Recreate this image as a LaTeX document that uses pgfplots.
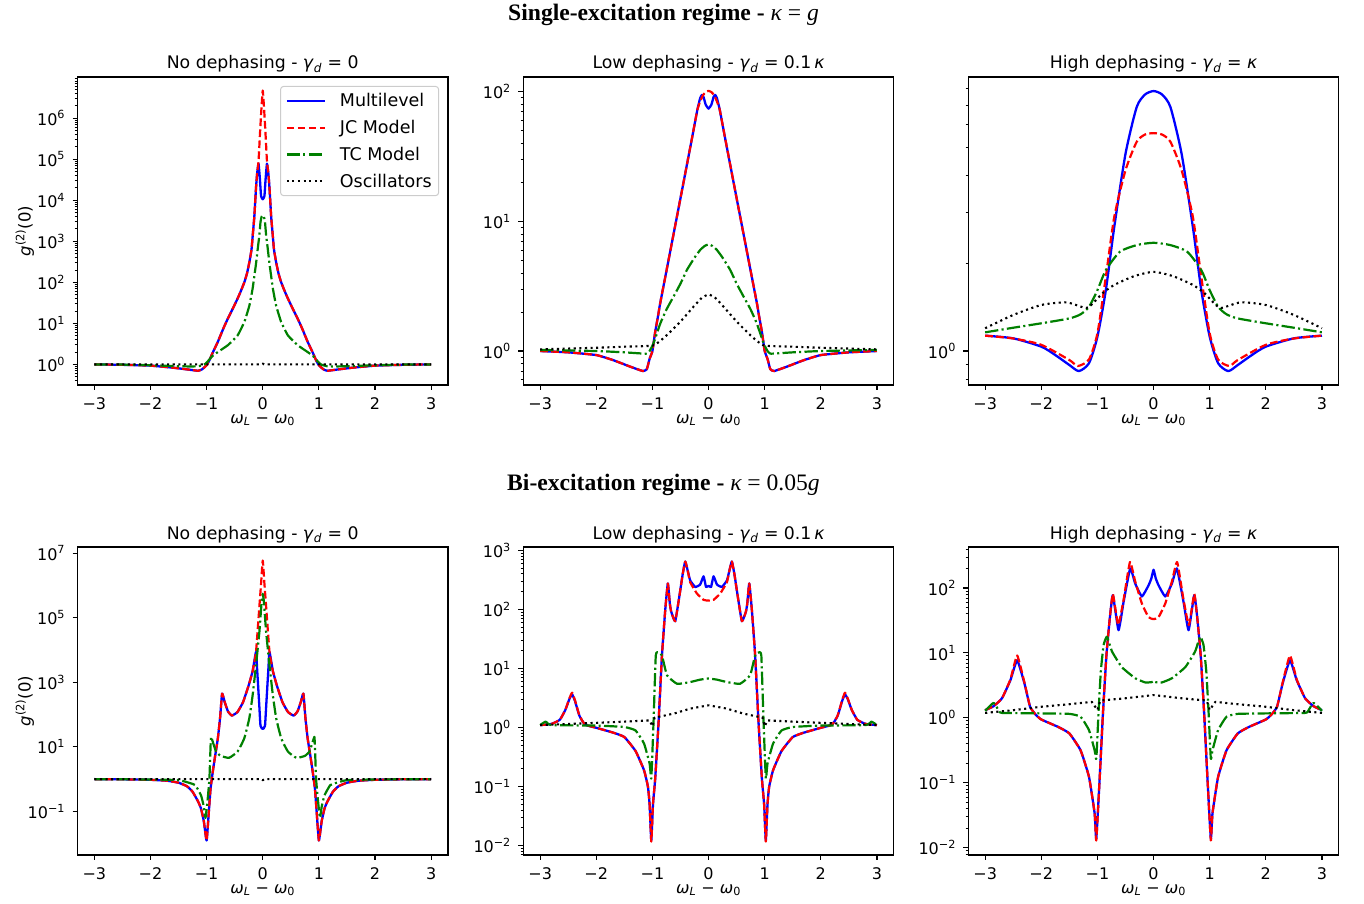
\documentclass[border=0pt]{standalone}
\usepackage{pgfplots}
\pgfplotsset{compat=1.18}
\usepackage{fontspec}
\setmainfont{DejaVu Sans}
\newfontfamily\serifbf{Liberation Serif}
\definecolor{mplgreen}{RGB}{0,128,0}
\definecolor{leggray}{RGB}{204,204,204}
\pgfplotsset{
  pan/.style={
    scale only axis, width=370.5pt, height=308pt,
    xmin=-3.3, xmax=3.3,
    xtick={-3,-2,-1,0,1,2,3},
    xticklabels={−3,−2,−1,0,1,2,3},
    xtick pos=left, ytick pos=left, tick align=outside,
    major tick length=4.9pt, minor tick length=2.8pt,
    major tick style={line width=1.1pt, black},
    minor tick style={line width=0.8pt, black},
    axis line style={line width=1.1pt, black},
    tick label style={font=\fontsize{16}{16}\selectfont},
    xticklabel style={yshift=-4pt, text depth=0pt},
    yticklabel style={xshift=-4pt},
    xlabel={\textit{ω}\textsubscript{\textit{L}} − \textit{ω}\textsubscript{0}},
    every axis x label/.style={at={(axis description cs:0.5,-0.114)}, anchor=center, inner sep=0pt, font=\fontsize{16}{16}\selectfont},
    every axis y label/.style={at={(axis description cs:-0.142,0.5)}, rotate=90, anchor=center, font=\fontsize{16.5}{16.5}\selectfont},
    title style={at={(axis description cs:0.5,1)}, anchor=base, yshift=2pt, font=\fontsize{17.3}{17.3}\selectfont},
  },
}
\tikzset{
  bS/.style={blue, solid, line width=2.3pt, line join=round, smooth, tension=0.25},
  rS/.style={red, line width=2.2pt, dash pattern=on 7.7pt off 3.3pt, line join=round, smooth, tension=0.25},
  gS/.style={mplgreen, line width=2.2pt, dash pattern=on 13.3pt off 3.3pt on 2.1pt off 3.3pt, line join=round, smooth, tension=0.25},
  kS/.style={black, line width=2.1pt, dash pattern=on 2.1pt off 3.5pt, line join=round},
}
\begin{document}
\begin{tikzpicture}
\useasboundingbox (0pt,0pt) rectangle (1364pt,903pt);
\node[anchor=base, font=\serifbf\fontsize{23.6}{23.6}\selectfont] at (663.5pt,882pt) {\bfseries Single-excitation regime - {\mdseries\itshape κ} {\mdseries =} {\mdseries\itshape g}};
\node[anchor=base, font=\serifbf\fontsize{23.6}{23.6}\selectfont] at (663.5pt,412pt) {\bfseries Bi-excitation regime - {\mdseries\itshape κ} {\mdseries = 0.05}{\mdseries\itshape g}};

% ---------- Panel 1 ----------
\begin{axis}[pan, ymode=log, anchor=south west, at={(77.5pt,518pt)}, ymin=0.315, ymax=1.0e7,
  title={No dephasing - \textit{γ}\textsubscript{\textit{d}} = 0},
  ylabel={\textit{g}\textsuperscript{(2)}(0)},
  ytick={1,10,100,1000,1e4,1e5,1e6},
  yticklabels={10\textsuperscript{0},10\textsuperscript{1},10\textsuperscript{2},10\textsuperscript{3},10\textsuperscript{4},10\textsuperscript{5},10\textsuperscript{6}},
  minor ytick={0.4,0.5,0.6,0.7,0.8,0.9,2,3,4,5,6,7,8,9,20,30,40,50,60,70,80,90,200,300,400,500,600,700,800,900,2000,3000,4000,5000,6000,7000,8000,9000,2e4,3e4,4e4,5e4,6e4,7e4,8e4,9e4,2e5,3e5,4e5,5e5,6e5,7e5,8e5,9e5,2e6,3e6,4e6,5e6,6e6,7e6,8e6,9e6},
  legend style={at={(axis description cs:0.976,0.971)}, anchor=north east, draw=leggray, line width=1pt, rounded corners=3pt, fill=white, font=\fontsize{17.5}{20}\selectfont, row sep=8pt, column sep=12pt, inner xsep=5pt, inner ysep=5pt},
  legend cell align=left,
  legend image code/.code={\draw[#1] (0pt,0pt) -- (38pt,0pt);},
]
\addplot[bS] coordinates {(-3,1) (-2.5,0.977) (-2,0.933) (-1.6,0.832) (-1.3,0.741) (-1.15,0.70) (-1.08,0.76) (-1,0.955) (-0.95,1.26) (-0.9,1.82) (-0.8,3.55) (-0.7,7.59) (-0.62,13.2) (-0.53,23.4) (-0.446,40.7) (-0.38,66.1) (-0.326,102) (-0.28,166) (-0.237,316) (-0.2,631) (-0.178,1410) (-0.15,3980) (-0.12,2.0e4) (-0.1,4.47e4) (-0.075,7.76e4) (-0.05,3.16e4) (-0.03,1.26e4) (0,1.05e4) (0.03,1.26e4) (0.05,3.16e4) (0.075,7.76e4) (0.1,4.47e4) (0.12,2.0e4) (0.15,3980) (0.178,1410) (0.2,631) (0.237,316) (0.28,166) (0.326,102) (0.38,66.1) (0.446,40.7) (0.53,23.4) (0.62,13.2) (0.7,7.59) (0.8,3.55) (0.9,1.82) (0.95,1.26) (1,0.955) (1.08,0.76) (1.15,0.70) (1.3,0.741) (1.6,0.832) (2,0.933) (2.5,0.977) (3,1)};
\addlegendentry{Multilevel}
\addplot[rS] coordinates {(-3,1) (-2.5,0.977) (-2,0.933) (-1.6,0.832) (-1.3,0.741) (-1.15,0.70) (-1.08,0.76) (-1,0.955) (-0.95,1.26) (-0.9,1.82) (-0.8,3.55) (-0.7,7.59) (-0.62,13.2) (-0.53,23.4) (-0.446,40.7) (-0.38,66.1) (-0.326,102) (-0.28,166) (-0.237,316) (-0.2,631) (-0.178,1410) (-0.15,3980) (-0.12,2.0e4) (-0.1,4.47e4) (-0.075,8.9e4) (-0.05,3.98e5) (-0.025,1.58e6) (0,4.68e6) (0.025,1.58e6) (0.05,3.98e5) (0.075,8.9e4) (0.1,4.47e4) (0.12,2.0e4) (0.15,3980) (0.178,1410) (0.2,631) (0.237,316) (0.28,166) (0.326,102) (0.38,66.1) (0.446,40.7) (0.53,23.4) (0.62,13.2) (0.7,7.59) (0.8,3.55) (0.9,1.82) (0.95,1.26) (1,0.955) (1.08,0.76) (1.15,0.70) (1.3,0.741) (1.6,0.832) (2,0.933) (2.5,0.977) (3,1)};
\addlegendentry{JC Model}
\addplot[gS] coordinates {(-3,1) (-2.5,0.989) (-2,0.955) (-1.6,0.912) (-1.3,0.891) (-1.15,0.902) (-1.05,0.977) (-1,1.10) (-0.9,1.58) (-0.8,2.0) (-0.62,2.95) (-0.446,5.13) (-0.326,11.0) (-0.237,27.5) (-0.18,70.8) (-0.148,148) (-0.12,282) (-0.089,661) (-0.06,1410) (-0.04,2950) (-0.02,3980) (0,4270) (0.02,3980) (0.04,2950) (0.06,1410) (0.089,661) (0.12,282) (0.148,148) (0.18,70.8) (0.237,27.5) (0.326,11.0) (0.446,5.13) (0.62,2.95) (0.8,2.0) (0.9,1.58) (1,1.10) (1.05,0.977) (1.15,0.902) (1.3,0.891) (1.6,0.912) (2,0.955) (2.5,0.989) (3,1)};
\addlegendentry{TC Model}
\addplot[kS] coordinates {(-3,1) (-0.03,1) (0,1.04) (0.03,1) (3,1)};
\addlegendentry{Oscillators}
\end{axis}

% ---------- Panel 2 ----------
\begin{axis}[pan, ymode=log, anchor=south west, at={(523.3pt,518pt)}, ymin=0.547, ymax=130,
  title={Low dephasing - \textit{γ}\textsubscript{\textit{d}} = 0.1\,\textit{κ}},
  ytick={1,10,100},
  yticklabels={10\textsuperscript{0},10\textsuperscript{1},10\textsuperscript{2}},
  minor ytick={0.6,0.7,0.8,0.9,2,3,4,5,6,7,8,9,20,30,40,50,60,70,80,90},
]
\addplot[bS] coordinates {(-3,1) (-2.5,0.977) (-2,0.931) (-1.7,0.851) (-1.4,0.759) (-1.17,0.701) (-1.1,0.724) (-1.05,0.871) (-1,1.0) (-0.95,1.41) (-0.9,1.86) (-0.862,2.33) (-0.7,5.37) (-0.5,15.1) (-0.3,42.7) (-0.2,72.4) (-0.15,89.1) (-0.12,94.4) (-0.09,91.2) (-0.05,79.4) (0,74.1) (0.05,79.4) (0.09,91.2) (0.12,94.4) (0.15,89.1) (0.2,72.4) (0.3,42.7) (0.5,15.1) (0.7,5.37) (0.862,2.33) (0.9,1.86) (0.95,1.41) (1,1.0) (1.05,0.871) (1.1,0.724) (1.17,0.701) (1.4,0.759) (1.7,0.851) (2,0.931) (2.5,0.977) (3,1)};
\addplot[rS] coordinates {(-3,1) (-2.5,0.977) (-2,0.931) (-1.7,0.851) (-1.4,0.759) (-1.17,0.701) (-1.1,0.724) (-1.05,0.871) (-1,1.0) (-0.95,1.41) (-0.9,1.86) (-0.862,2.33) (-0.7,5.37) (-0.5,15.1) (-0.3,42.7) (-0.2,72.4) (-0.15,84) (-0.1,94) (-0.05,99.5) (0,101.6) (0.05,99.5) (0.1,94) (0.15,84) (0.2,72.4) (0.3,42.7) (0.5,15.1) (0.7,5.37) (0.862,2.33) (0.9,1.86) (0.95,1.41) (1,1.0) (1.05,0.871) (1.1,0.724) (1.17,0.701) (1.4,0.759) (1.7,0.851) (2,0.931) (2.5,0.977) (3,1)};
\addplot[gS] coordinates {(-3,1.02) (-2,1.0) (-1.5,0.977) (-1.22,0.959) (-1.1,0.955) (-1.05,1.0) (-0.98,1.15) (-0.86,1.63) (-0.75,2.09) (-0.624,2.63) (-0.5,3.31) (-0.386,4.22) (-0.25,5.25) (-0.148,6.03) (-0.07,6.46) (0,6.65) (0.07,6.46) (0.148,6.03) (0.25,5.25) (0.386,4.22) (0.5,3.31) (0.624,2.63) (0.75,2.09) (0.86,1.63) (0.98,1.15) (1.05,1.0) (1.1,0.955) (1.22,0.959) (1.5,0.977) (2,1.0) (3,1.02)};
\addplot[kS, smooth, tension=0.3] coordinates {(-3,1.03) (-2,1.06) (-1.5,1.08) (-1,1.10) (-0.86,1.20) (-0.74,1.33) (-0.505,1.68) (-0.267,2.20) (-0.12,2.57) (0,2.73) (0.12,2.57) (0.267,2.20) (0.505,1.68) (0.74,1.33) (0.86,1.20) (1,1.10) (1.5,1.08) (2,1.06) (3,1.03)};
\end{axis}

% ---------- Panel 3 ----------
\begin{axis}[pan, ymode=log, anchor=south west, at={(968.3pt,518pt)}, ymin=0.764, ymax=8.75,
  title={High dephasing - \textit{γ}\textsubscript{\textit{d}} = \textit{κ}},
  ytick={1}, yticklabels={10\textsuperscript{0}},
  minor ytick={0.8,0.9,2,3,4,5,6,7,8},
]
\addplot[bS, tension=0.4] coordinates {(-3,1.129) (-2.5,1.105) (-2,1.035) (-1.75,0.968) (-1.5,0.895) (-1.33,0.853) (-1.15,0.908) (-1,1.12) (-0.85,1.62) (-0.7,2.67) (-0.5,4.76) (-0.3,6.90) (-0.15,7.62) (0,7.83) (0.15,7.62) (0.3,6.90) (0.5,4.76) (0.7,2.67) (0.85,1.62) (1,1.12) (1.15,0.908) (1.33,0.853) (1.5,0.895) (1.75,0.968) (2,1.035) (2.5,1.105) (3,1.129)};
\addplot[rS, tension=0.4] coordinates {(-3,1.129) (-2.5,1.104) (-2,1.05) (-1.5,0.931) (-1.35,0.888) (-1.15,0.935) (-1,1.15) (-0.85,1.80) (-0.7,2.89) (-0.5,4.18) (-0.3,5.24) (-0.15,5.55) (0,5.61) (0.15,5.55) (0.3,5.24) (0.5,4.18) (0.7,2.89) (0.85,1.80) (1,1.15) (1.15,0.935) (1.35,0.888) (1.5,0.931) (2,1.05) (2.5,1.104) (3,1.129)};
\addplot[gS, tension=0.4] coordinates {(-3,1.159) (-2.5,1.202) (-2,1.245) (-1.5,1.294) (-1.3,1.337) (-1.15,1.419) (-1,1.618) (-0.85,1.897) (-0.6,2.193) (-0.3,2.312) (0,2.355) (0.3,2.312) (0.6,2.193) (0.85,1.897) (1,1.618) (1.15,1.419) (1.3,1.337) (1.5,1.294) (2,1.245) (2.5,1.202) (3,1.159)};
\addplot[kS, smooth, tension=0.4] coordinates {(-3,1.197) (-2.5,1.330) (-2,1.439) (-1.55,1.469) (-1.2,1.406) (-1.05,1.479) (-0.9,1.585) (-0.7,1.687) (-0.35,1.807) (0,1.871) (0.35,1.807) (0.7,1.687) (0.9,1.585) (1.05,1.479) (1.2,1.406) (1.55,1.469) (2,1.439) (2.5,1.330) (3,1.197)};
\end{axis}

% ---------- Panel 4 ----------
\begin{axis}[pan, ymode=log, anchor=south west, at={(77.5pt,48pt)}, ymin=0.00447, ymax=1.55e7,
  title={No dephasing - \textit{γ}\textsubscript{\textit{d}} = 0},
  ylabel={\textit{g}\textsuperscript{(2)}(0)},
  ytick={0.1,10,1000,1e5,1e7},
  yticklabels={10\textsuperscript{−1},10\textsuperscript{1},10\textsuperscript{3},10\textsuperscript{5},10\textsuperscript{7}},
  minor ytick={},
]
\addplot[bS] coordinates {(-3,1) (-2.5,0.989) (-2,0.955) (-1.7,0.891) (-1.5,0.776) (-1.35,0.603) (-1.25,0.407) (-1.15,0.2) (-1.1,0.123) (-1.05,0.0501) (-1,0.0126) (-0.96,0.1) (-0.93,0.501) (-0.89,1.70) (-0.85,5.01) (-0.8,18.2) (-0.76,79.4) (-0.724,447) (-0.68,251) (-0.62,126) (-0.55,93.3) (-0.45,120) (-0.35,245) (-0.25,813) (-0.18,2240) (-0.12,8710) (-0.1,2510) (-0.08,660) (-0.06,170) (-0.04,45) (0,35.5) (0.04,45) (0.06,170) (0.08,660) (0.1,2510) (0.12,8710) (0.18,2240) (0.25,813) (0.35,245) (0.45,120) (0.55,93.3) (0.62,126) (0.68,251) (0.724,447) (0.76,79.4) (0.8,18.2) (0.85,5.01) (0.89,1.70) (0.93,0.501) (0.96,0.1) (1,0.0126) (1.05,0.0501) (1.1,0.123) (1.15,0.2) (1.25,0.407) (1.35,0.603) (1.5,0.776) (1.7,0.891) (2,0.955) (2.5,0.989) (3,1)};
\addplot[rS] coordinates {(-3,1) (-2.5,0.989) (-2,0.955) (-1.7,0.891) (-1.5,0.776) (-1.35,0.603) (-1.25,0.407) (-1.15,0.2) (-1.1,0.123) (-1.05,0.0501) (-1,0.0126) (-0.96,0.1) (-0.93,0.501) (-0.89,1.70) (-0.85,5.01) (-0.8,18.2) (-0.76,79.4) (-0.724,447) (-0.68,251) (-0.62,126) (-0.55,93.3) (-0.45,120) (-0.35,245) (-0.25,813) (-0.18,2240) (-0.12,8710) (-0.06,2.24e5) (-0.03,1.12e6) (0,5.89e6) (0.03,1.12e6) (0.06,2.24e5) (0.12,8710) (0.18,2240) (0.25,813) (0.35,245) (0.45,120) (0.55,93.3) (0.62,126) (0.68,251) (0.724,447) (0.76,79.4) (0.8,18.2) (0.85,5.01) (0.89,1.70) (0.93,0.501) (0.96,0.1) (1,0.0126) (1.05,0.0501) (1.1,0.123) (1.15,0.2) (1.25,0.407) (1.35,0.603) (1.5,0.776) (1.7,0.891) (2,0.955) (2.5,0.989) (3,1)};
\addplot[gS] coordinates {(-3,1) (-2,0.977) (-1.5,0.933) (-1.3,0.759) (-1.2,0.646) (-1.1,0.316) (-1.05,0.141) (-1.02,0.0631) (-0.98,0.251) (-0.95,1.05) (-0.93,10.0) (-0.92,20.4) (-0.88,12.6) (-0.83,7.08) (-0.75,5.25) (-0.6,4.57) (-0.45,7.08) (-0.33,18.2) (-0.24,75.9) (-0.18,398) (-0.12,3390) (-0.06,3.63e4) (-0.02,3.16e5) (0,5.50e5) (0.02,3.16e5) (0.06,3.63e4) (0.12,3390) (0.18,398) (0.24,75.9) (0.33,18.2) (0.45,7.08) (0.6,4.57) (0.75,5.25) (0.83,7.08) (0.88,12.6) (0.92,20.4) (0.93,10.0) (0.95,1.05) (0.98,0.251) (1.02,0.0631) (1.05,0.141) (1.1,0.316) (1.2,0.646) (1.3,0.759) (1.5,0.933) (2,0.977) (3,1)};
\addplot[kS] coordinates {(-3,1) (-0.03,1) (0,0.93) (0.03,1) (3,1)};
\end{axis}

% ---------- Panel 5 ----------
\begin{axis}[pan, ymode=log, anchor=south west, at={(523.3pt,48pt)}, ymin=0.00695, ymax=1138,
  title={Low dephasing - \textit{γ}\textsubscript{\textit{d}} = 0.1\,\textit{κ}},
  ytick={0.01,0.1,1,10,100,1000},
  yticklabels={10\textsuperscript{−2},10\textsuperscript{−1},10\textsuperscript{0},10\textsuperscript{1},10\textsuperscript{2},10\textsuperscript{3}},
  minor ytick={0.007,0.008,0.009,0.02,0.03,0.04,0.05,0.06,0.07,0.08,0.09,0.2,0.3,0.4,0.5,0.6,0.7,0.8,0.9,2,3,4,5,6,7,8,9,20,30,40,50,60,70,80,90,200,300,400,500,600,700,800,900},
]
\addplot[bS] coordinates {(-3,1.10) (-2.8,1.15) (-2.65,1.35) (-2.55,2.0) (-2.48,3.02) (-2.43,3.63) (-2.38,2.82) (-2.3,1.58) (-2.2,1.12) (-2.0,0.99) (-1.7,0.82) (-1.5,0.69) (-1.3,0.40) (-1.15,0.19) (-1.08,0.1) (-1.05,0.05) (-1.02,0.0123) (-0.99,0.05) (-0.95,0.138) (-0.89,1.24) (-0.83,16.6) (-0.77,102) (-0.725,275) (-0.69,126) (-0.665,91.2) (-0.594,63.1) (-0.517,174) (-0.46,398) (-0.415,646) (-0.37,447) (-0.327,309) (-0.238,240) (-0.15,263) (-0.089,363) (-0.045,240) (0,251) (0.045,240) (0.089,363) (0.15,263) (0.238,240) (0.327,309) (0.37,447) (0.415,646) (0.46,398) (0.517,174) (0.594,63.1) (0.665,91.2) (0.69,126) (0.725,275) (0.77,102) (0.83,16.6) (0.89,1.24) (0.95,0.138) (0.99,0.05) (1.02,0.0123) (1.05,0.05) (1.08,0.1) (1.15,0.19) (1.3,0.40) (1.5,0.69) (1.7,0.82) (2.0,0.99) (2.2,1.12) (2.3,1.58) (2.38,2.82) (2.43,3.63) (2.48,3.02) (2.55,2.0) (2.65,1.35) (2.8,1.15) (3,1.10)};
\addplot[rS] coordinates {(-3,1.10) (-2.8,1.15) (-2.65,1.35) (-2.55,2.0) (-2.48,3.1) (-2.43,3.89) (-2.38,2.9) (-2.3,1.6) (-2.2,1.12) (-2.0,0.99) (-1.7,0.82) (-1.5,0.69) (-1.3,0.40) (-1.15,0.19) (-1.08,0.1) (-1.05,0.05) (-1.02,0.0117) (-0.99,0.05) (-0.95,0.138) (-0.89,1.24) (-0.83,16.6) (-0.77,102) (-0.725,275) (-0.69,126) (-0.665,91.2) (-0.594,63.1) (-0.517,174) (-0.46,398) (-0.415,646) (-0.37,447) (-0.327,288) (-0.208,186) (-0.089,145) (0,141) (0.089,145) (0.208,186) (0.327,288) (0.37,447) (0.415,646) (0.46,398) (0.517,174) (0.594,63.1) (0.665,91.2) (0.69,126) (0.725,275) (0.77,102) (0.83,16.6) (0.89,1.24) (0.95,0.138) (0.99,0.05) (1.02,0.0117) (1.05,0.05) (1.08,0.1) (1.15,0.19) (1.3,0.40) (1.5,0.69) (1.7,0.82) (2.0,0.99) (2.2,1.12) (2.3,1.6) (2.38,2.9) (2.43,3.89) (2.48,3.1) (2.55,2.0) (2.65,1.35) (2.8,1.15) (3,1.10)};
\addplot[gS] coordinates {(-3,1.10) (-2.9,1.26) (-2.8,1.10) (-2.0,1.08) (-1.5,1.02) (-1.3,0.891) (-1.15,0.537) (-1.05,0.245) (-1.02,0.138) (-0.98,1.24) (-0.94,16.6) (-0.89,18.6) (-0.83,16.6) (-0.74,7.67) (-0.56,5.50) (-0.327,5.89) (-0.15,6.46) (0,6.76) (0.15,6.46) (0.327,5.89) (0.56,5.50) (0.74,7.67) (0.83,16.6) (0.89,18.6) (0.94,16.6) (0.98,1.24) (1.02,0.138) (1.05,0.245) (1.15,0.537) (1.3,0.891) (1.5,1.02) (2.0,1.08) (2.8,1.10) (2.9,1.26) (3,1.10)};
\addplot[kS] coordinates {(-3,1.10) (-2,1.20) (-1.5,1.26) (-1.05,1.32) (-1.0,1.05) (-0.96,1.48) (-0.9,1.51) (-0.61,1.73) (-0.327,2.09) (0,2.38) (0.327,2.09) (0.61,1.73) (0.9,1.51) (0.96,1.48) (1.0,1.05) (1.05,1.32) (1.5,1.26) (2,1.20) (3,1.10)};
\end{axis}

% ---------- Panel 6 ----------
\begin{axis}[pan, ymode=log, anchor=south west, at={(968.3pt,48pt)}, ymin=0.0077, ymax=428,
  title={High dephasing - \textit{γ}\textsubscript{\textit{d}} = \textit{κ}},
  ytick={0.01,0.1,1,10,100},
  yticklabels={10\textsuperscript{−2},10\textsuperscript{−1},10\textsuperscript{0},10\textsuperscript{1},10\textsuperscript{2}},
  minor ytick={0.008,0.009,0.02,0.03,0.04,0.05,0.06,0.07,0.08,0.09,0.2,0.3,0.4,0.5,0.6,0.7,0.8,0.9,2,3,4,5,6,7,8,9,20,30,40,50,60,70,80,90,200,300,400},
]
\addplot[bS] coordinates {(-3,1.31) (-2.85,1.51) (-2.7,2.0) (-2.55,3.80) (-2.43,7.71) (-2.3,3.39) (-2.2,1.48) (-2.1,1.12) (-2.0,0.942) (-1.7,0.724) (-1.5,0.575) (-1.3,0.316) (-1.15,0.123) (-1.05,0.0339) (-1.02,0.0138) (-0.96,0.117) (-0.9,1.23) (-0.84,9.12) (-0.78,33.9) (-0.725,77.6) (-0.624,22.4) (-0.535,60.3) (-0.416,200) (-0.327,117) (-0.208,74.1) (-0.089,110) (-0.04,140) (0,191) (0.04,140) (0.089,110) (0.208,74.1) (0.327,117) (0.416,200) (0.535,60.3) (0.624,22.4) (0.725,77.6) (0.78,33.9) (0.84,9.12) (0.9,1.23) (0.96,0.117) (1.02,0.0138) (1.05,0.0339) (1.15,0.123) (1.3,0.316) (1.5,0.575) (1.7,0.724) (2.0,0.942) (2.1,1.12) (2.2,1.48) (2.3,3.39) (2.43,7.71) (2.55,3.80) (2.7,2.0) (2.85,1.51) (3,1.31)};
\addplot[rS] coordinates {(-3,1.31) (-2.85,1.51) (-2.7,2.0) (-2.55,3.9) (-2.43,9.12) (-2.3,3.5) (-2.2,1.48) (-2.1,1.12) (-2.0,0.942) (-1.7,0.724) (-1.5,0.575) (-1.3,0.316) (-1.15,0.123) (-1.05,0.0339) (-1.02,0.0129) (-0.96,0.117) (-0.9,1.23) (-0.84,9.12) (-0.78,33.9) (-0.725,81.3) (-0.63,26.9) (-0.535,65) (-0.42,251) (-0.327,126) (-0.208,57.5) (-0.089,35.5) (0,33.1) (0.089,35.5) (0.208,57.5) (0.327,126) (0.42,251) (0.535,65) (0.63,26.9) (0.725,81.3) (0.78,33.9) (0.84,9.12) (0.9,1.23) (0.96,0.117) (1.02,0.0129) (1.05,0.0339) (1.15,0.123) (1.3,0.316) (1.5,0.575) (1.7,0.724) (2.0,0.942) (2.1,1.12) (2.2,1.48) (2.3,3.5) (2.43,9.12) (2.55,3.9) (2.7,2.0) (2.85,1.51) (3,1.31)};
\addplot[gS] coordinates {(-3,1.28) (-2.85,1.70) (-2.75,1.26) (-2.7,1.19) (-2.0,1.17) (-1.5,1.15) (-1.3,1.04) (-1.15,0.646) (-1.05,0.316) (-1.02,0.234) (-0.98,1.23) (-0.94,5.13) (-0.89,13.2) (-0.83,17.8) (-0.74,10.5) (-0.565,6.03) (-0.327,4.07) (-0.149,3.51) (-0.03,3.55) (0,3.72) (0.03,3.55) (0.149,3.51) (0.327,4.07) (0.565,6.03) (0.74,10.5) (0.83,17.8) (0.89,13.2) (0.94,5.13) (0.98,1.23) (1.02,0.234) (1.05,0.316) (1.15,0.646) (1.3,1.04) (1.5,1.15) (2.0,1.17) (2.7,1.19) (2.75,1.26) (2.85,1.70) (3,1.28)};
\addplot[kS] coordinates {(-3,1.19) (-2.5,1.31) (-2,1.48) (-1.5,1.62) (-1.1,1.76) (-1.0,1.32) (-0.95,1.82) (-0.9,1.86) (-0.5,2.0) (0,2.24) (0.5,2.0) (0.9,1.86) (0.95,1.82) (1.0,1.32) (1.1,1.76) (1.5,1.62) (2,1.48) (2.5,1.31) (3,1.19)};
\end{axis}
\end{tikzpicture}
\end{document}
